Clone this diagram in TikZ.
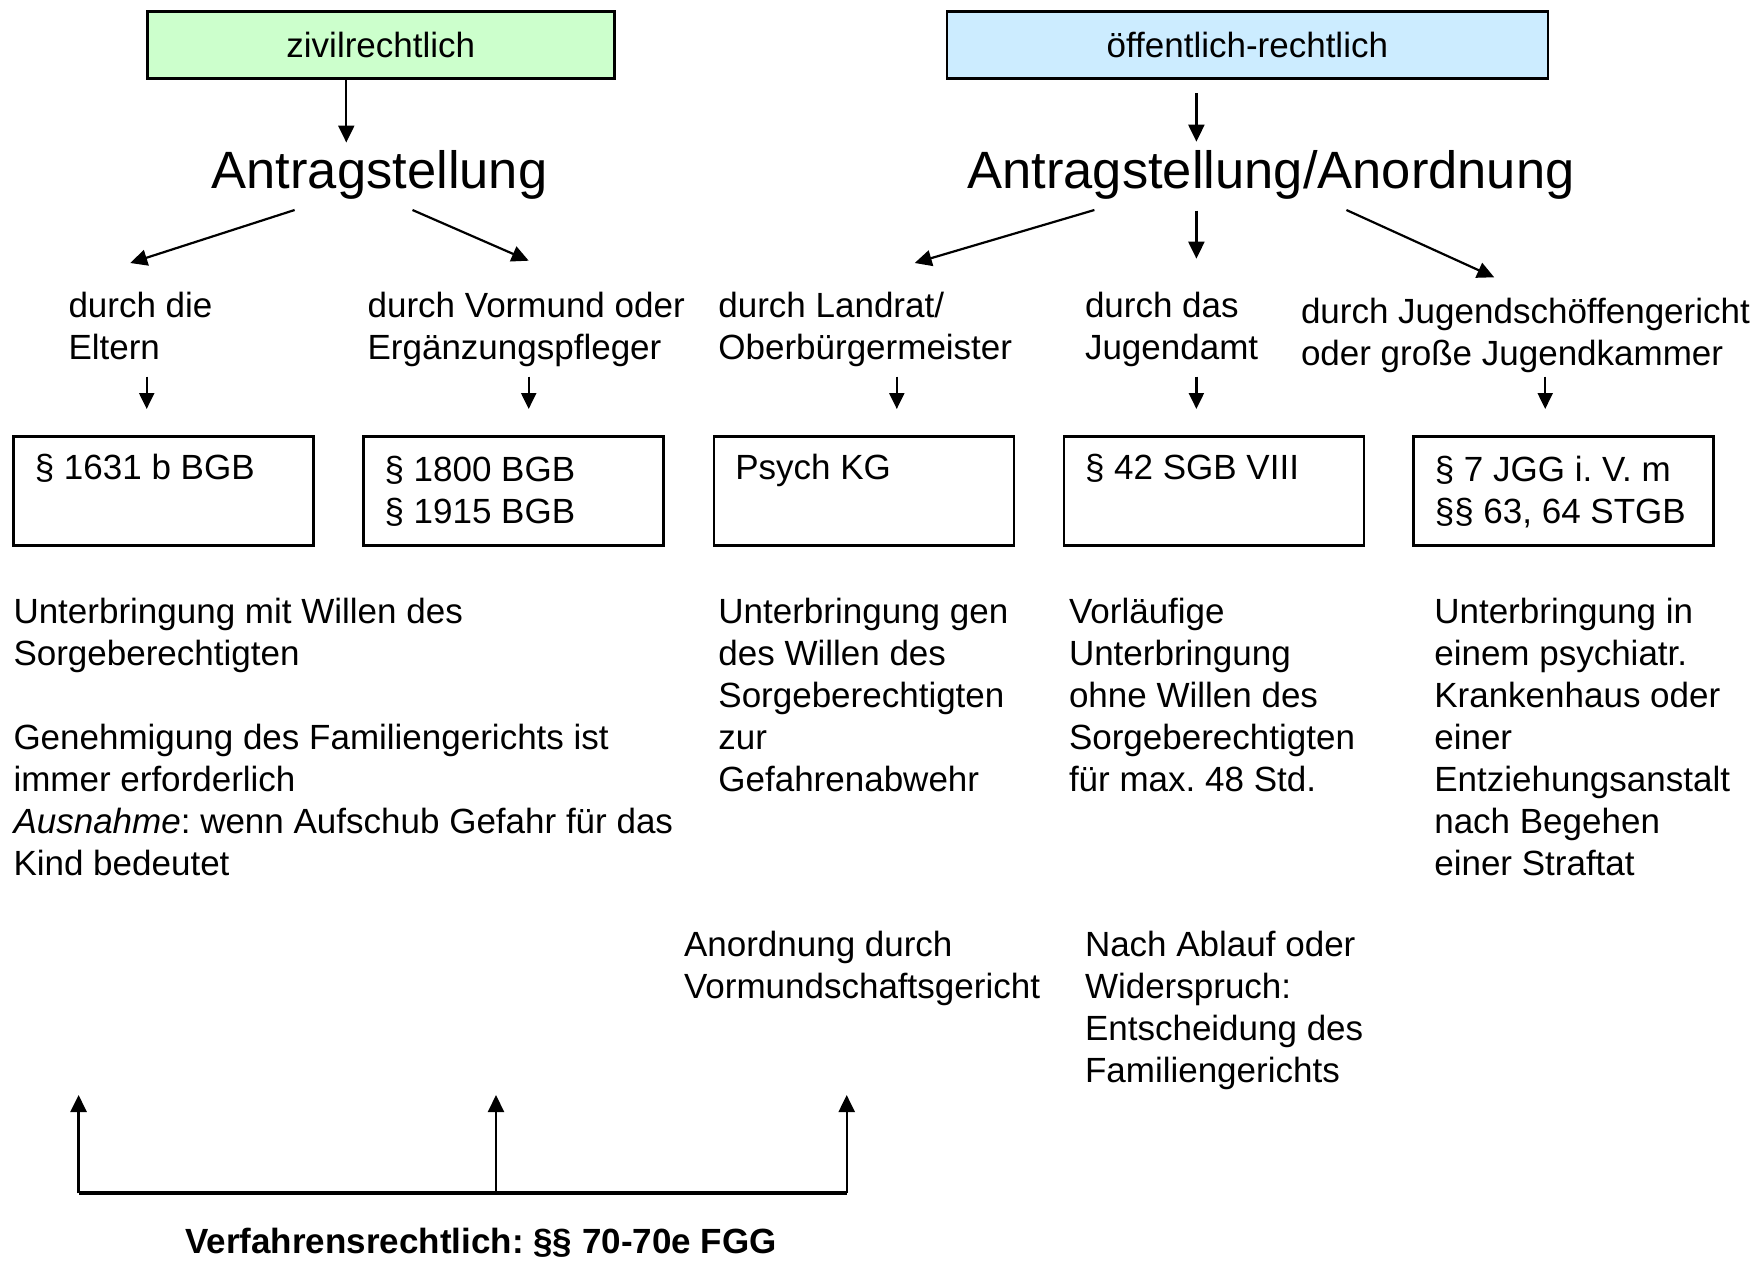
\documentclass[tikz,border=0pt]{standalone}
\usepackage{fontspec}
\setmainfont{Liberation Sans}
\usetikzlibrary{arrows.meta}
\definecolor{zgreen}{RGB}{204,255,204}
\definecolor{oblue}{RGB}{204,236,255}
\frenchspacing
\begin{document}
\frenchspacing
\begin{tikzpicture}[x=1pt,y=-1pt,
  txt/.style={font=\fontsize{35}{42}\selectfont\frenchspacing, inner sep=0pt, outer sep=0pt, align=left, anchor=north west, execute at begin node=\strut},
  big/.style={font=\fontsize{52.5}{63}\selectfont, inner sep=0pt, anchor=base},
  headbox/.style={draw=black, line width=2.6pt, anchor=north west, inner sep=0pt, minimum height=67pt, font=\fontsize{35}{42}\selectfont},
  lawbox/.style={draw=black, line width=2.6pt, anchor=north west, inner sep=0pt, minimum width=300pt, minimum height=109pt},
  arr/.style={-{Triangle[length=17pt,width=16pt]}, line width=2.2pt},
  sarr/.style={-{Triangle[length=16pt,width=15pt]}, line width=2.2pt},
]
\useasboundingbox (0,0) rectangle (1758,1261);

% top boxes
\node[headbox, fill=zgreen, minimum width=467pt] (zivil) at (146,10) {zivilrechtlich};
\node[headbox, fill=oblue, minimum width=601pt] (oeff) at (945.5,10) {öffentlich-rechtlich};

% big headings
\node[big] (antL) at (379.5,188) {Antragstellung};
\node[big] (antR) at (1271,188) {Antragstellung/Anordnung};

% labels
\node[txt] (l1) at (68.5,292) {durch die\\Eltern};
\node[txt] (l2) at (367.6,292) {durch Vormund oder\\Ergänzungspfleger};
\node[txt] (l3) at (718.4,292) {durch Landrat/\\Oberbürgermeister};
\node[txt] (l4) at (1085,292) {durch das\\Jugendamt};
\node[txt] (l5) at (1301,298) {durch Jugendschöffengericht\\oder große Jugendkammer};

% law boxes
\node[lawbox] (b1) at (12.3,435) {};
\node[lawbox] (b2) at (362,435) {};
\node[lawbox] (b3) at (712.8,435) {};
\node[lawbox] (b4) at (1062.5,435) {};
\node[lawbox] (b5) at (1412.3,435) {};
\node[txt] (t1) at ([shift={(22.5,14.6)}]b1.north west) {§ 1631 b BGB};
\node[txt] (t2) at ([shift={(22.5,21)}]b2.north west) {§ 1800 BGB\\§ 1915 BGB};
\node[txt] (t3) at ([shift={(22.5,14.6)}]b3.north west) {Psych KG};
\node[txt] (t4) at ([shift={(22.5,14.6)}]b4.north west) {§ 42 SGB VIII};
\node[txt] (t5) at ([shift={(22.5,21)}]b5.north west) {§ 7 JGG i. V. m\\§§ 63, 64 STGB};

% descriptions
\node[txt] (d1) at (13.5,598) {Unterbringung mit Willen des\\Sorgeberechtigten\\[42pt]Genehmigung des Familiengerichts ist\\immer erforderlich\\\textit{Ausnahme}: wenn Aufschub Gefahr für das\\Kind bedeutet};
\node[txt] (d3) at (718.4,598) {Unterbringung gen\\des Willen des\\Sorgeberechtigten\\zur\\Gefahrenabwehr};
\node[txt] (d4) at (1069,598) {Vorläufige\\Unterbringung\\ohne Willen des\\Sorgeberechtigten\\für max. 48 Std.};
\node[txt] (d5) at (1434.3,598) {Unterbringung in\\einem psychiatr.\\Krankenhaus oder\\einer\\Entziehungsanstalt\\nach Begehen\\einer Straftat};

% lower texts
\node[txt] (e3) at (684,931) {Anordnung durch\\Vormundschaftsgericht};
\node[txt] (e4) at (1085,931) {Nach Ablauf oder\\Widerspruch:\\Entscheidung des\\Familiengerichts};

% bottom label
\node[font=\fontsize{35}{42}\selectfont\bfseries\frenchspacing, inner sep=0pt, anchor=base] (verf) at (481,1253) {Verfahrensrechtlich: §§ 70-70e FGG};

% connector coordinates
\coordinate (zs) at (346.3,77.3);
\coordinate (zt) at (346.3,142.5);
\coordinate (os) at (1196.4,93.3);
\coordinate (ot) at (1196.4,141.7);
\coordinate (aLs1) at (294.6,210);
\coordinate (aLt1) at (130.2,263);
\coordinate (aLs2) at (412.5,210);
\coordinate (aLt2) at (528.7,260.7);
\coordinate (aRs1) at (1094.4,210);
\coordinate (aRt1) at (914.7,263);
\coordinate (aRs2) at (1196.4,210.7);
\coordinate (aRt2) at (1196.4,258.7);
\coordinate (aRs3) at (1346.4,210);
\coordinate (aRt3) at (1494.2,277.3);

\draw[arr] (zs) -- (zt);
\draw[arr] (os) -- (ot);
\draw[arr] (aLs1) -- (aLt1);
\draw[arr] (aLs2) -- (aLt2);
\draw[arr] (aRs1) -- (aRt1);
\draw[arr] (aRs2) -- (aRt2);
\draw[arr] (aRs3) -- (aRt3);

% small arrows to boxes
\coordinate (s1) at (146.7,376.7); \coordinate (e1) at (146.7,409);
\coordinate (s2) at (528.7,376.7); \coordinate (e2) at (528.7,409);
\coordinate (s3) at (896.8,376.7); \coordinate (e3c) at (896.8,409);
\coordinate (s4) at (1196.4,376.7); \coordinate (e4c) at (1196.4,409);
\coordinate (s5) at (1545.2,376.7); \coordinate (e5) at (1545.2,409);
\draw[sarr] (s1) -- (e1);
\draw[sarr] (s2) -- (e2);
\draw[sarr] (s3) -- (e3c);
\draw[sarr] (s4) -- (e4c);
\draw[sarr] (s5) -- (e5);

% bottom bracket
\coordinate (bl) at (78.6,1193.3);
\coordinate (bm) at (496,1193.3);
\coordinate (br) at (846.7,1193.3);
\coordinate (ul) at (78.6,1095);
\coordinate (um) at (496,1095);
\coordinate (ur) at (846.7,1095);
\draw[line width=3.8pt] (bl) -- (br);
\draw[arr, line width=2.6pt] (bl) -- (ul);
\draw[arr, line width=2.2pt] (bm) -- (um);
\draw[arr, line width=2.2pt] (br) -- (ur);
\end{tikzpicture}
\end{document}
